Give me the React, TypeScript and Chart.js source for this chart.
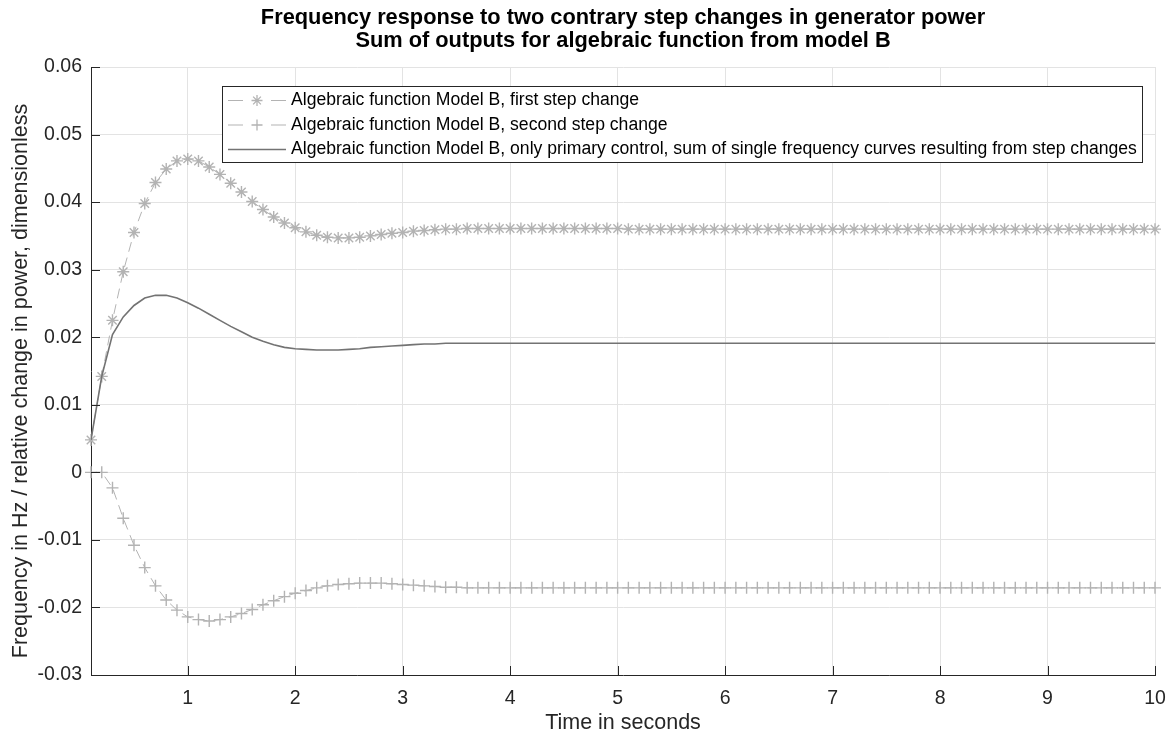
import React, { useEffect, useRef } from "react";
import { Chart, registerables } from "chart.js";

Chart.register(...registerables);

// Sample instants in seconds
const SAMPLE_TIMES = [
  0.1, 0.2, 0.3, 0.4, 0.5, 0.6, 0.7, 0.8, 0.9, 1.0,
  1.1, 1.2, 1.3, 1.4, 1.5, 1.6, 1.7, 1.8, 1.9, 2.0,
  2.1, 2.2, 2.3, 2.4, 2.5, 2.6, 2.7, 2.8, 2.9, 3.0,
  3.1, 3.2, 3.3, 3.4, 3.5, 3.6, 3.7, 3.8, 3.9, 4.0,
  4.1, 4.2, 4.3, 4.4, 4.5, 4.6, 4.7, 4.8, 4.9, 5.0,
  5.1, 5.2, 5.3, 5.4, 5.5, 5.6, 5.7, 5.8, 5.9, 6.0,
  6.1, 6.2, 6.3, 6.4, 6.5, 6.6, 6.7, 6.8, 6.9, 7.0,
  7.1, 7.2, 7.3, 7.4, 7.5, 7.6, 7.7, 7.8, 7.9, 8.0,
  8.1, 8.2, 8.3, 8.4, 8.5, 8.6, 8.7, 8.8, 8.9, 9.0,
  9.1, 9.2, 9.3, 9.4, 9.5, 9.6, 9.7, 9.8, 9.9, 10.0,
];

// Algebraic function Model B, first step change
const FIRST_STEP = [
  0.0048, 0.0142, 0.0225, 0.0297, 0.0355, 0.0398, 0.0429, 0.0449, 0.0461, 0.0464,
  0.0461, 0.0452, 0.0441, 0.0428, 0.0415, 0.0401, 0.0389, 0.0378, 0.0369, 0.0362,
  0.0356, 0.0351, 0.0348, 0.0347, 0.0347, 0.0348, 0.035, 0.0352, 0.0354, 0.0355,
  0.0357, 0.0358, 0.0359, 0.036, 0.036, 0.0361, 0.0361, 0.0361, 0.0361, 0.0361,
  0.0361, 0.0361, 0.0361, 0.0361, 0.0361, 0.0361, 0.0361, 0.0361, 0.0361, 0.0361,
  0.036, 0.036, 0.036, 0.036, 0.036, 0.036, 0.036, 0.036, 0.036, 0.036,
  0.036, 0.036, 0.036, 0.036, 0.036, 0.036, 0.036, 0.036, 0.036, 0.036,
  0.036, 0.036, 0.036, 0.036, 0.036, 0.036, 0.036, 0.036, 0.036, 0.036,
  0.036, 0.036, 0.036, 0.036, 0.036, 0.036, 0.036, 0.036, 0.036, 0.036,
  0.036, 0.036, 0.036, 0.036, 0.036, 0.036, 0.036, 0.036, 0.036, 0.036,
];

// Algebraic function Model B, second step change
const SECOND_STEP = [
  0, 0, -0.0023, -0.0068, -0.0108, -0.0141, -0.0168, -0.0189, -0.0204, -0.0214,
  -0.0218, -0.022, -0.0218, -0.0214, -0.0209, -0.0203, -0.0196, -0.019, -0.0184, -0.0179,
  -0.0175, -0.0171, -0.0168, -0.0166, -0.0165, -0.0164, -0.0164, -0.0164, -0.0165, -0.0166,
  -0.0167, -0.0168, -0.0169, -0.017, -0.017, -0.0171, -0.0171, -0.0171, -0.0171, -0.0171,
  -0.0171, -0.0171, -0.0171, -0.0171, -0.0171, -0.0171, -0.0171, -0.0171, -0.0171, -0.0171,
  -0.0171, -0.0171, -0.0171, -0.0171, -0.0171, -0.0171, -0.0171, -0.0171, -0.0171, -0.0171,
  -0.0171, -0.0171, -0.0171, -0.0171, -0.0171, -0.0171, -0.0171, -0.0171, -0.0171, -0.0171,
  -0.0171, -0.0171, -0.0171, -0.0171, -0.0171, -0.0171, -0.0171, -0.0171, -0.0171, -0.0171,
  -0.0171, -0.0171, -0.0171, -0.0171, -0.0171, -0.0171, -0.0171, -0.0171, -0.0171, -0.0171,
  -0.0171, -0.0171, -0.0171, -0.0171, -0.0171, -0.0171, -0.0171, -0.0171, -0.0171, -0.0171,
];

// Only primary control: sum of the single frequency curves
const PRIMARY_SUM = [
  0.0048, 0.0142, 0.0204, 0.023, 0.0247, 0.0258, 0.0262, 0.0262, 0.0258, 0.0251,
  0.0243, 0.0234, 0.0225, 0.0216, 0.0208, 0.02, 0.0194, 0.0189, 0.0185, 0.0183,
  0.0182, 0.0181, 0.0181, 0.0181, 0.0182, 0.0183, 0.0185, 0.0186, 0.0187, 0.0188,
  0.0189, 0.019, 0.019, 0.0191, 0.0191, 0.0191, 0.0191, 0.0191, 0.0191, 0.0191,
  0.0191, 0.0191, 0.0191, 0.0191, 0.0191, 0.0191, 0.0191, 0.0191, 0.0191, 0.0191,
  0.0191, 0.0191, 0.0191, 0.0191, 0.0191, 0.0191, 0.0191, 0.0191, 0.0191, 0.0191,
  0.0191, 0.0191, 0.0191, 0.0191, 0.0191, 0.0191, 0.0191, 0.0191, 0.0191, 0.0191,
  0.0191, 0.0191, 0.0191, 0.0191, 0.0191, 0.0191, 0.0191, 0.0191, 0.0191, 0.0191,
  0.0191, 0.0191, 0.0191, 0.0191, 0.0191, 0.0191, 0.0191, 0.0191, 0.0191, 0.0191,
  0.0191, 0.0191, 0.0191, 0.0191, 0.0191, 0.0191, 0.0191, 0.0191, 0.0191, 0.0191,
];

const X_TICKS = [1, 2, 3, 4, 5, 6, 7, 8, 9, 10];
const X_TICK_LABELS = ["1", "2", "3", "4", "5", "6", "7", "8", "9", "10"];
const Y_TICKS = [-0.03, -0.02, -0.01, 0, 0.01, 0.02, 0.03, 0.04, 0.05, 0.06];
const Y_TICK_LABELS = ["-0.03", "-0.02", "-0.01", "0", "0.01", "0.02", "0.03", "0.04", "0.05", "0.06"];

const TITLE_LINES = [
  "Frequency response to two contrary step changes in generator power",
  "Sum of outputs for algebraic function from model B",
];
const X_TITLE = "Time in seconds";
const Y_TITLE = "Frequency in Hz / relative change in power, dimensionless";
const SERIES_LABELS = [
  "Algebraic function Model B, first step change",
  "Algebraic function Model B, second step change",
  "Algebraic function Model B, only primary control, sum of single frequency curves resulting from step changes",
];

const FONT = "'Liberation Sans', Arial, Helvetica, sans-serif";
const AXIS_COLOR = "#262626";
const GRID_COLOR = "#e3e3e3";
const STEP_COLOR = "#b3b3b3";
const SUM_COLOR = "#737373";

const TICK_SIZE = 19.5;
const LABEL_SIZE = 21.5;
const TITLE_SIZE = 21.8;
const LEGEND_SIZE = 17.6;

function drawStar(ctx: CanvasRenderingContext2D, x: number, y: number, r: number) {
  ctx.beginPath();
  for (let k = 0; k < 4; k++) {
    const a = (k * Math.PI) / 4;
    ctx.moveTo(x - r * Math.cos(a), y - r * Math.sin(a));
    ctx.lineTo(x + r * Math.cos(a), y + r * Math.sin(a));
  }
  ctx.stroke();
}

function drawPlus(ctx: CanvasRenderingContext2D, x: number, y: number, r: number) {
  ctx.beginPath();
  ctx.moveTo(x - r, y);
  ctx.lineTo(x + r, y);
  ctx.moveTo(x, y - r);
  ctx.lineTo(x, y + r);
  ctx.stroke();
}

const figureDecorations = {
  id: "figureDecorations",
  afterDraw(chart: any) {
    const { ctx, chartArea: area, scales } = chart;
    ctx.save();

    // inward tick marks on the left and bottom axes
    ctx.strokeStyle = AXIS_COLOR;
    ctx.lineWidth = 1;
    ctx.setLineDash([]);
    ctx.beginPath();
    for (const v of Y_TICKS) {
      const y = Math.round(scales.y.getPixelForValue(v)) + 0.5;
      ctx.moveTo(area.left, y);
      ctx.lineTo(area.left + 9, y);
    }
    for (const v of X_TICKS) {
      const x = Math.round(scales.x.getPixelForValue(v)) + 0.5;
      ctx.moveTo(x, area.bottom);
      ctx.lineTo(x, area.bottom - 9);
    }
    ctx.stroke();

    // figure title
    const cx = (area.left + area.right) / 2;
    ctx.fillStyle = "#000";
    ctx.font = `bold ${TITLE_SIZE}px ${FONT}`;
    ctx.textAlign = "center";
    ctx.textBaseline = "middle";
    ctx.fillText(TITLE_LINES[0], cx, 18);
    ctx.fillText(TITLE_LINES[1], cx, 41);

    // axis titles
    ctx.fillStyle = AXIS_COLOR;
    ctx.font = `${LABEL_SIZE}px ${FONT}`;
    ctx.fillText(X_TITLE, cx, 723);
    ctx.save();
    ctx.translate(21, 381);
    ctx.rotate(-Math.PI / 2);
    ctx.fillText(Y_TITLE, 0, 0);
    ctx.restore();

    // legend box
    ctx.font = `${LEGEND_SIZE}px ${FONT}`;
    const boxLeft = 222;
    const boxTop = 86;
    const boxBottom = 162;
    const textX = 291;
    const textW = Math.max(...SERIES_LABELS.map((s) => ctx.measureText(s).width));
    const boxRight = Math.round(textX + textW + 5);
    ctx.fillStyle = "#fff";
    ctx.fillRect(boxLeft, boxTop, boxRight - boxLeft, boxBottom - boxTop);
    ctx.strokeStyle = AXIS_COLOR;
    ctx.lineWidth = 1;
    ctx.strokeRect(boxLeft + 0.5, boxTop + 0.5, boxRight - boxLeft, boxBottom - boxTop);

    const rows = [100.5, 125, 149.5];
    const sx0 = 228;
    const sx1 = 286;
    const mx = 257;
    rows.forEach((ry, i) => {
      if (i < 2) {
        ctx.strokeStyle = STEP_COLOR;
        ctx.lineWidth = 1;
        ctx.beginPath();
        ctx.moveTo(sx0, ry);
        ctx.lineTo(sx0 + 15, ry);
        ctx.moveTo(sx1 - 15, ry);
        ctx.lineTo(sx1, ry);
        ctx.stroke();
        ctx.lineWidth = 1.3;
        if (i === 0) drawStar(ctx, mx, ry, 5.5);
        else drawPlus(ctx, mx, ry, 5.5);
      } else {
        ctx.strokeStyle = SUM_COLOR;
        ctx.lineWidth = 1.5;
        ctx.beginPath();
        ctx.moveTo(sx0, ry);
        ctx.lineTo(sx1, ry);
        ctx.stroke();
      }
      ctx.fillStyle = "#000";
      ctx.textAlign = "left";
      ctx.textBaseline = "middle";
      ctx.fillText(SERIES_LABELS[i], textX, ry);
    });

    ctx.restore();
  },
};

function toPoints(values: number[]) {
  return SAMPLE_TIMES.map((t, i) => ({ x: t, y: values[i] }));
}

export default function App() {
  const canvasRef = useRef<HTMLCanvasElement | null>(null);

  useEffect(() => {
    const canvas = canvasRef.current;
    if (!canvas) return;
    const chart = new Chart(canvas, {
      type: "line",
      data: {
        datasets: [
          {
            label: SERIES_LABELS[0],
            data: toPoints(FIRST_STEP),
            borderColor: STEP_COLOR,
            borderWidth: 1,
            borderDash: [10, 6],
            pointStyle: "star",
            pointRadius: 6,
            pointBorderColor: STEP_COLOR,
            pointBackgroundColor: "rgba(0,0,0,0)",
            pointBorderWidth: 1.4,
            tension: 0,
            clip: false,
            order: 2,
          },
          {
            label: SERIES_LABELS[1],
            data: toPoints(SECOND_STEP),
            borderColor: STEP_COLOR,
            borderWidth: 1,
            borderDash: [10, 6],
            pointStyle: "cross",
            pointRadius: 6,
            pointBorderColor: STEP_COLOR,
            pointBackgroundColor: "rgba(0,0,0,0)",
            pointBorderWidth: 1.4,
            tension: 0,
            clip: false,
            order: 1,
          },
          {
            label: SERIES_LABELS[2],
            data: toPoints(PRIMARY_SUM),
            borderColor: SUM_COLOR,
            borderWidth: 1.6,
            pointRadius: 0,
            tension: 0,
            order: 0,
          },
        ],
      },
      options: {
        responsive: false,
        animation: false,
        events: [],
        layout: { padding: { top: 67, right: 13, left: 0, bottom: 0 } },
        plugins: {
          legend: { display: false },
          title: { display: false },
          tooltip: { enabled: false },
        },
        scales: {
          x: {
            type: "linear",
            min: 0.1,
            max: 10,
            afterBuildTicks: (scale: any) => {
              scale.ticks = X_TICKS.map((value) => ({ value }));
            },
            afterFit: (scale: any) => {
              scale.height = 60;
              scale.paddingLeft = 0;
              scale.paddingRight = 0;
            },
            grid: { color: GRID_COLOR, drawTicks: false },
            border: { color: AXIS_COLOR, width: 1 },
            ticks: {
              autoSkip: false,
              maxRotation: 0,
              padding: 12,
              color: AXIS_COLOR,
              font: { family: FONT, size: TICK_SIZE },
              callback: (_v: any, i: number) => X_TICK_LABELS[i],
            },
          },
          y: {
            type: "linear",
            min: -0.03,
            max: 0.06,
            afterBuildTicks: (scale: any) => {
              scale.ticks = Y_TICKS.map((value) => ({ value }));
            },
            afterFit: (scale: any) => {
              scale.width = 91;
              scale.paddingTop = 0;
              scale.paddingBottom = 0;
            },
            grid: { color: GRID_COLOR, drawTicks: false },
            border: { color: AXIS_COLOR, width: 1 },
            ticks: {
              autoSkip: false,
              padding: 9,
              color: AXIS_COLOR,
              font: { family: FONT, size: TICK_SIZE },
              callback: (_v: any, i: number) => Y_TICK_LABELS[i],
            },
          },
        },
      },
      plugins: [figureDecorations],
    } as any);
    return () => chart.destroy();
  }, []);

  return (
    <div style={{ position: "fixed", left: 0, top: 0, width: 1168, height: 735, background: "#fff" }}>
      <canvas ref={canvasRef} width={1168} height={735} style={{ display: "block" }} />
    </div>
  );
}
